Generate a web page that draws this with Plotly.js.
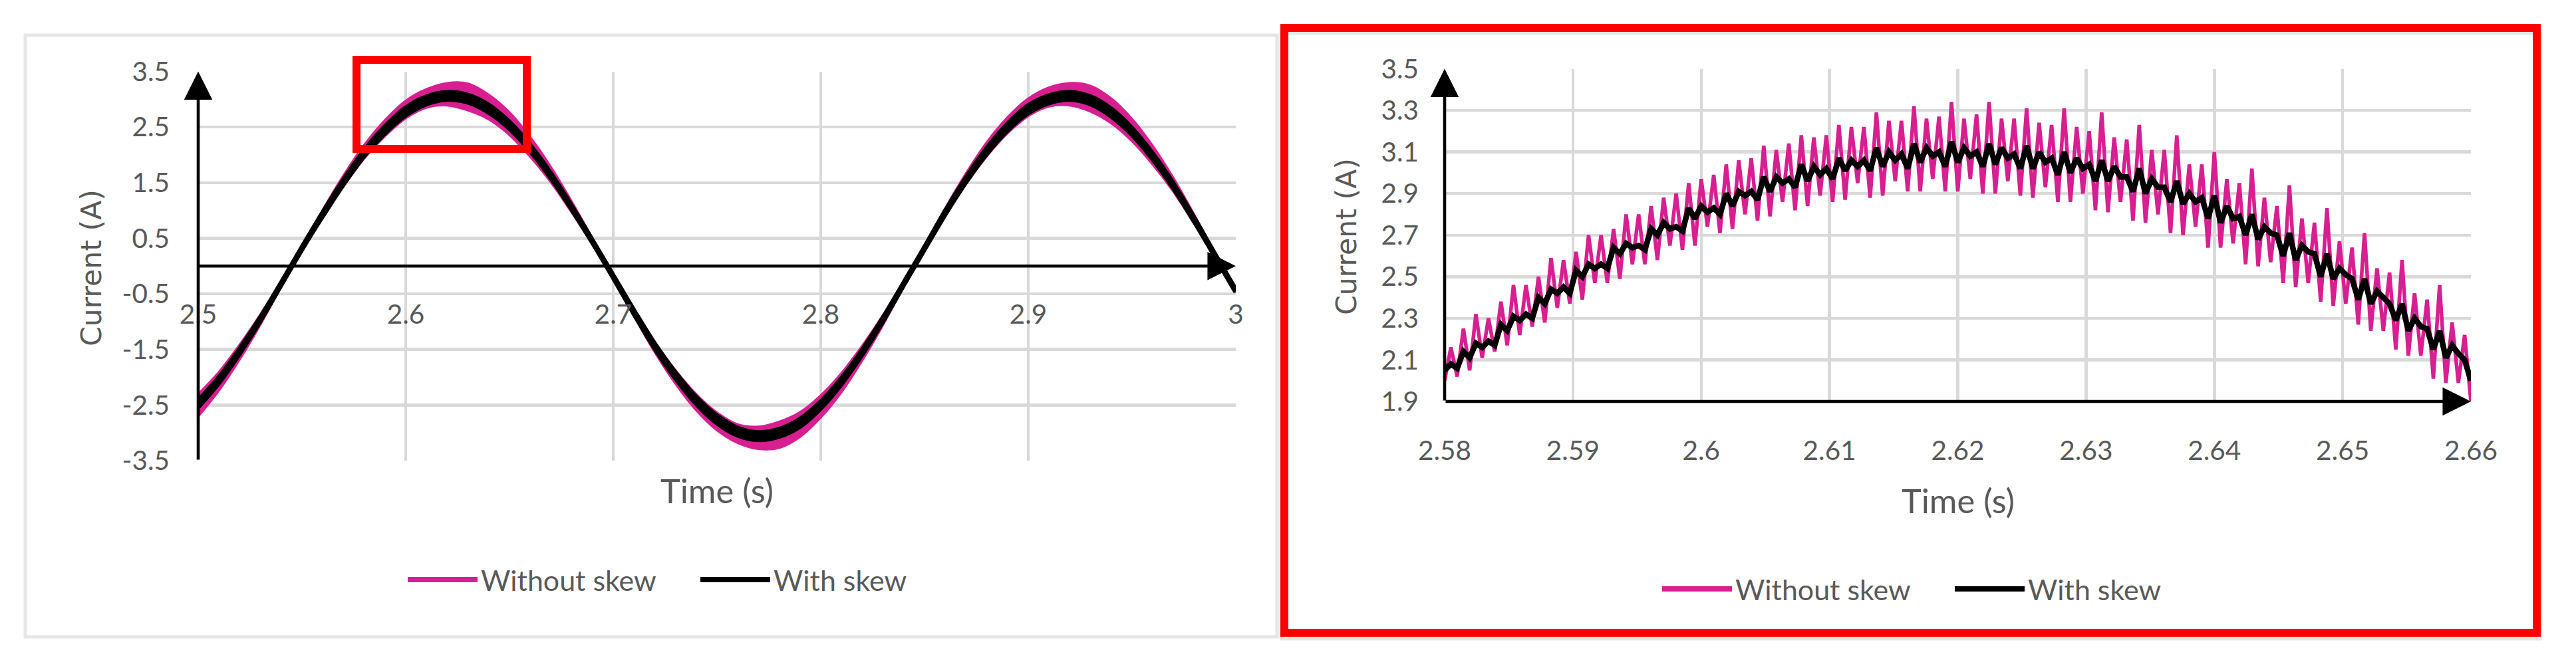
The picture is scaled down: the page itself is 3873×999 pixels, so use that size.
<!DOCTYPE html>
<html><head><meta charset="utf-8">
<script src="https://cdn.plot.ly/plotly-3.0.1.min.js"></script>
<style>html,body{margin:0;padding:0;background:#fff;overflow:hidden;} #chart{width:3873px;height:999px;}</style>
</head><body><div id="chart"></div>
<script>
// ---------------- DATA ----------------
const seriesNames = ['Without skew', 'With skew'];

// Left (overview) chart: time samples and envelope of each current trace (A)
const leftTime = [2.50,2.51,2.52,2.53,2.54,2.55,2.56,2.57,2.58,2.59,2.60,2.61,2.62,2.63,2.64,2.65,2.66,2.67,2.68,2.69,
  2.70,2.71,2.72,2.73,2.74,2.75,2.76,2.77,2.78,2.79,2.80,2.81,2.82,2.83,2.84,2.85,2.86,2.87,2.88,2.89,
  2.90,2.91,2.92,2.93,2.94,2.95,2.96,2.97,2.98,2.99,3.00];
const leftWithoutSkewHigh = [-2.32,-1.92,-1.43,-0.89,-0.30,0.34,0.99,1.61,2.16,2.61,2.96,3.17,3.28,3.27,3.07,2.75,2.30,1.76,1.14,0.48,
  -0.18,-0.80,-1.38,-1.89,-2.32,-2.65,-2.86,-2.90,-2.81,-2.64,-2.34,-1.94,-1.45,-0.90,-0.30,0.34,1.02,1.65,2.21,2.66,
  3.00,3.20,3.28,3.23,3.00,2.63,2.14,1.56,0.90,0.21,-0.43];
const leftWithoutSkewLow = [-2.69,-2.22,-1.66,-1.03,-0.35,0.31,0.89,1.45,1.95,2.35,2.67,2.86,2.90,2.81,2.65,2.37,1.98,1.52,0.98,0.41,
  -0.20,-0.88,-1.53,-2.10,-2.58,-2.94,-3.17,-3.28,-3.26,-3.06,-2.71,-2.25,-1.68,-1.04,-0.35,0.31,0.92,1.49,1.99,2.40,
  2.71,2.88,2.90,2.79,2.58,2.26,1.84,1.35,0.78,0.18,-0.48];
const leftWithSkewHigh = [-2.43,-2.01,-1.50,-0.93,-0.31,0.33,0.95,1.54,2.07,2.50,2.84,3.04,3.12,3.07,2.89,2.58,2.16,1.65,1.07,0.45,
  -0.18,-0.81,-1.41,-1.93,-2.37,-2.70,-2.92,-3.00,-2.94,-2.76,-2.45,-2.03,-1.52,-0.94,-0.31,0.33,0.98,1.58,2.11,2.55,
  2.88,3.06,3.12,3.04,2.82,2.47,2.01,1.47,0.85,0.20,-0.44];
const leftWithSkewLow = [-2.53,-2.09,-1.56,-0.97,-0.33,0.31,0.91,1.48,1.99,2.40,2.72,2.92,3.00,2.95,2.77,2.48,2.08,1.59,1.03,0.43,
  -0.20,-0.85,-1.47,-2.01,-2.47,-2.82,-3.04,-3.12,-3.06,-2.88,-2.55,-2.11,-1.58,-0.98,-0.33,0.31,0.94,1.52,2.03,2.45,
  2.76,2.94,3.00,2.92,2.70,2.37,1.93,1.41,0.81,0.18,-0.46];

// Right (zoomed) chart: samples start at 2.58 s, one every 0.0004878 s, up to 2.66 s
const zoomStart = 2.58;
const zoomStep = 0.0004878;
const zoomWithoutSkew = [2.00,
  2.16,2.02, 2.25,2.05, 2.32,2.11, 2.30,2.14, 2.38,2.17, 2.46,2.22, 2.46,2.26, 2.50,2.28, 2.59,2.35, 2.58,2.37,
  2.62,2.39, 2.70,2.47, 2.70,2.47, 2.73,2.49, 2.80,2.56, 2.80,2.56, 2.84,2.58, 2.88,2.65, 2.90,2.63, 2.95,2.65,
  2.97,2.74, 2.99,2.71, 3.04,2.73, 3.06,2.80, 3.07,2.77, 3.13,2.79, 3.11,2.86, 3.14,2.82, 3.18,2.84, 3.17,2.89,
  3.18,2.86, 3.23,2.87, 3.22,2.95, 3.22,2.88, 3.29,2.89, 3.25,2.96, 3.25,2.91, 3.32,2.91, 3.26,2.97, 3.27,2.91,
  3.34,2.91, 3.26,2.97, 3.28,2.90, 3.34,2.90, 3.26,2.96, 3.26,2.89, 3.31,2.88, 3.24,2.93, 3.23,2.86, 3.31,2.86,
  3.22,2.90, 3.20,2.82, 3.29,2.81, 3.17,2.86, 3.16,2.77, 3.23,2.76, 3.11,2.80, 3.11,2.71, 3.18,2.70, 3.04,2.74,
  3.04,2.64, 3.10,2.64, 2.97,2.66, 2.95,2.56, 3.02,2.55, 2.88,2.57, 2.84,2.47, 2.94,2.45, 2.78,2.47, 2.76,2.38,
  2.83,2.36, 2.67,2.37, 2.64,2.27, 2.71,2.24, 2.54,2.24, 2.52,2.15, 2.58,2.12, 2.42,2.12, 2.39,2.01, 2.46,1.99,
  2.28,1.99, 2.22,1.90];
const zoomWithSkew = [2.05,
  2.08,2.06, 2.14,2.11, 2.18,2.16, 2.19,2.17, 2.27,2.24, 2.31,2.29, 2.32,2.30, 2.40,2.37, 2.44,2.42, 2.45,2.42,
  2.53,2.50, 2.56,2.54, 2.56,2.54, 2.64,2.61, 2.66,2.64, 2.65,2.63, 2.73,2.70, 2.76,2.73, 2.74,2.72, 2.83,2.78,
  2.84,2.81, 2.83,2.80, 2.90,2.84, 2.91,2.89, 2.91,2.87, 2.98,2.91, 2.98,2.95, 2.97,2.93, 3.04,2.96, 3.03,2.99,
  3.02,2.97, 3.07,3.01, 3.06,3.03, 3.06,3.01, 3.12,3.03, 3.10,3.06, 3.09,3.02, 3.14,3.05, 3.12,3.08, 3.10,3.03,
  3.15,3.05, 3.12,3.08, 3.10,3.03, 3.14,3.04, 3.12,3.07, 3.09,3.02, 3.13,3.02, 3.10,3.05, 3.07,2.99, 3.10,3.00,
  3.07,3.02, 3.04,2.96, 3.06,2.96, 3.03,2.98, 2.98,2.91, 3.02,2.90, 2.97,2.93, 2.93,2.86, 2.96,2.85, 2.90,2.86,
  2.88,2.78, 2.89,2.76, 2.84,2.78, 2.79,2.70, 2.80,2.68, 2.74,2.71, 2.70,2.60, 2.71,2.58, 2.65,2.62, 2.61,2.50,
  2.61,2.49, 2.54,2.51, 2.49,2.39, 2.49,2.37, 2.43,2.40, 2.37,2.29, 2.37,2.24, 2.30,2.26, 2.25,2.15, 2.24,2.11,
  2.17,2.13, 2.10,2.00];

// Tick labels
const leftXTicks = [2.5, 2.6, 2.7, 2.8, 2.9, 3.0];
const leftXLabels = ['2.5', '2.6', '2.7', '2.8', '2.9', '3'];
const leftYTicks = [-3.5, -2.5, -1.5, -0.5, 0.5, 1.5, 2.5, 3.5];
const leftYLabels = ['-3.5', '-2.5', '-1.5', '-0.5', '0.5', '1.5', '2.5', '3.5'];
const zoomXTicks = [2.58, 2.59, 2.60, 2.61, 2.62, 2.63, 2.64, 2.65, 2.66];
const zoomXLabels = ['2.58', '2.59', '2.6', '2.61', '2.62', '2.63', '2.64', '2.65', '2.66'];
const zoomYTicks = [1.9, 2.1, 2.3, 2.5, 2.7, 2.9, 3.1, 3.3, 3.5];
const zoomYLabels = ['1.9', '2.1', '2.3', '2.5', '2.7', '2.9', '3.1', '3.3', '3.5'];
const xTitle = 'Time (s)';
const yTitle = 'Current (A)';

// ---------------- STYLE ----------------
const W = 3873, H = 999;
const PINK = '#d81f91', BLACK = '#000000', GRID = '#d9d9d9', TXT = '#595959', RED = '#ff0000';
const FONT = 'Lato, "Liberation Sans", sans-serif';
const YFONT = '"DejaVu Sans", "Liberation Sans", sans-serif';
const px = v => v / W;
const py = v => 1 - v / H;

// size a font so a sample string spans the width measured on the reference
const ctx2d = document.createElement('canvas').getContext('2d');
function fitSize(sample, family, targetPx) {
  ctx2d.font = '100px ' + family;
  return Math.round(1000 * targetPx / ctx2d.measureText(sample).width) / 10;
}
const tickSize = fitSize('2.58', FONT, 80);
const xTitleSize = fitSize(xTitle, FONT, 170);
const yTitleSize = fitSize(yTitle, YFONT, 236);
const legendSize = fitSize(seriesNames[0], FONT, 264);

function legendEntry(name, color, legendId, xa, ya) {
  return {x: [null], y: [null], xaxis: xa, yaxis: ya, mode: 'lines', name: name, line: {color: color, width: 8}, legend: legendId};
}

const traces = [
  // left chart bands
  {x: leftTime, y: leftWithoutSkewLow, xaxis: 'x', yaxis: 'y', mode: 'lines', line: {color: PINK, width: 5, shape: 'spline'}, showlegend: false, hoverinfo: 'skip'},
  {x: leftTime, y: leftWithoutSkewHigh, xaxis: 'x', yaxis: 'y', mode: 'lines', fill: 'tonexty', fillcolor: PINK, line: {color: PINK, width: 5, shape: 'spline'}, showlegend: false, hoverinfo: 'skip'},
  {x: leftTime, y: leftWithSkewLow, xaxis: 'x', yaxis: 'y', mode: 'lines', line: {color: BLACK, width: 8, shape: 'spline'}, showlegend: false, hoverinfo: 'skip'},
  {x: leftTime, y: leftWithSkewHigh, xaxis: 'x', yaxis: 'y', mode: 'lines', fill: 'tonexty', fillcolor: BLACK, line: {color: BLACK, width: 8, shape: 'spline'}, showlegend: false, hoverinfo: 'skip'},
  // right chart
  {x0: zoomStart, dx: zoomStep, y: zoomWithoutSkew, xaxis: 'x2', yaxis: 'y2', mode: 'lines', name: seriesNames[0], line: {color: PINK, width: 5.5}, showlegend: false},
  {x0: zoomStart, dx: zoomStep, y: zoomWithSkew, xaxis: 'x2', yaxis: 'y2', mode: 'lines', name: seriesNames[1], line: {color: BLACK, width: 8.5}, showlegend: false},
  // legend entries (one legend under each chart)
  legendEntry(seriesNames[0], PINK, 'legend', 'x', 'y'),
  legendEntry(seriesNames[1], BLACK, 'legend', 'x', 'y'),
  legendEntry(seriesNames[0], PINK, 'legend2', 'x2', 'y2'),
  legendEntry(seriesNames[1], BLACK, 'legend2', 'x2', 'y2')
];

const tickFont = {family: FONT, size: tickSize, color: TXT};
const xTitleFont = {family: FONT, size: xTitleSize, color: TXT};
const yTitleFont = {family: YFONT, size: yTitleSize, color: TXT};
const legendFont = {family: FONT, size: legendSize, color: TXT};
const gridCommon = {showgrid: true, gridcolor: GRID, gridwidth: 4.5, zeroline: false, showline: false, ticks: '', fixedrange: true, tickfont: tickFont};

function axisArrow(xr, yr, x0, y0, x1, y1) {
  return {xref: xr, yref: yr, axref: xr, ayref: yr, x: x1, y: y1, ax: x0, ay: y0, text: '', showarrow: true,
          arrowhead: 2, arrowsize: 1.85, arrowwidth: 4.6, arrowcolor: BLACK};
}
function label(x, y, text, angle, font) {
  return {xref: 'paper', yref: 'paper', x: px(x), y: py(y), text: text, showarrow: false, textangle: angle || 0,
          xanchor: 'center', yanchor: 'middle', font: font};
}
function legendAt(cx, cy) {
  return {orientation: 'h', x: px(cx), y: py(cy), xanchor: 'center', yanchor: 'middle', bgcolor: 'rgba(0,0,0,0)',
          font: legendFont, itemwidth: 105, entrywidth: 320, entrywidthmode: 'pixels', traceorder: 'normal'};
}

const layout = {
  width: W, height: H,
  margin: {l: 0, r: 0, t: 0, b: 0, pad: 0},
  paper_bgcolor: '#ffffff', plot_bgcolor: '#ffffff',
  xaxis: Object.assign({}, gridCommon, {domain: [px(298), px(1858)], range: [2.5, 3.0], anchor: 'free', position: py(401),
          tickvals: leftXTicks, ticktext: leftXLabels, ticklabelstandoff: 44}),
  yaxis: Object.assign({}, gridCommon, {domain: [py(693), py(107.5)], range: [-3.5, 3.5], anchor: 'x',
          tickvals: leftYTicks, ticktext: leftYLabels, ticklabelstandoff: 42}),
  xaxis2: Object.assign({}, gridCommon, {domain: [px(2172), px(3715)], range: [2.58, 2.66], anchor: 'y2',
          tickvals: zoomXTicks, ticktext: zoomXLabels, ticklabelstandoff: 46}),
  yaxis2: Object.assign({}, gridCommon, {domain: [py(604), py(103.5)], range: [1.9, 3.5], anchor: 'x2',
          tickvals: zoomYTicks, ticktext: zoomYLabels, ticklabelstandoff: 38}),
  legend: legendAt(1048, 872),
  legend2: legendAt(2934, 886),
  shapes: [
    {type: 'rect', xref: 'paper', yref: 'paper', x0: px(38), x1: px(1920), y0: py(958), y1: py(53), line: {color: '#e6e6e6', width: 5}, layer: 'below'},
    {type: 'rect', xref: 'paper', yref: 'paper', x0: px(1927), x1: px(3819), y0: py(961), y1: py(50), line: {color: '#e6e6e6', width: 5}, layer: 'below'},
    {type: 'rect', xref: 'paper', yref: 'paper', x0: px(536), x1: px(792), y0: py(224), y1: py(90), line: {color: RED, width: 12}, layer: 'above'},
    {type: 'rect', xref: 'paper', yref: 'paper', x0: px(1931), x1: px(3814), y0: py(952), y1: py(42), line: {color: RED, width: 12}, layer: 'above'}
  ],
  annotations: [
    axisArrow('x', 'y', 2.5, -3.5, 2.5, 3.5),
    axisArrow('x', 'y', 2.5, 0, 3.0, 0),
    axisArrow('x2', 'y2', 2.58, 1.9, 2.58, 3.5),
    axisArrow('x2', 'y2', 2.58, 1.9, 2.66, 1.9),
    label(1078, 737, xTitle, 0, xTitleFont),
    label(137, 403, yTitle, -90, yTitleFont),
    label(2944, 752, xTitle, 0, xTitleFont),
    label(2024, 356, yTitle, -90, yTitleFont)
  ]
};

Plotly.newPlot('chart', traces, layout, {staticPlot: true, displayModeBar: false});
</script></body></html>
